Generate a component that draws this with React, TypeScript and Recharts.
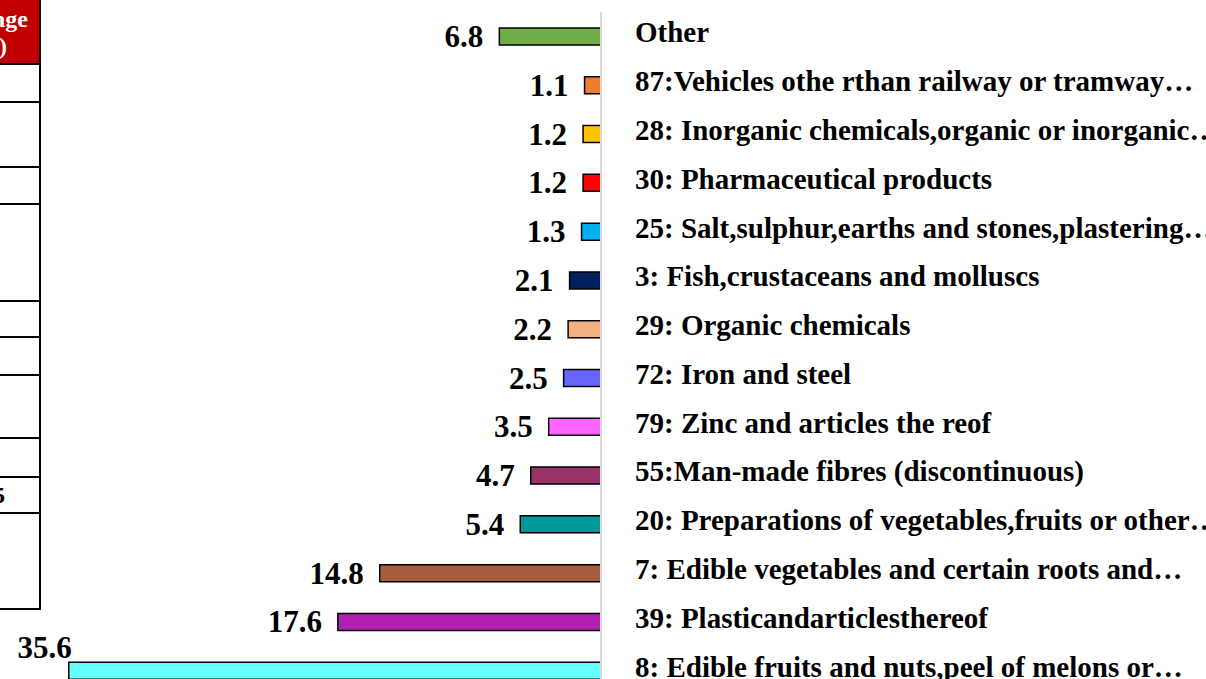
import React from "react";
import { BarChart, Bar, XAxis, YAxis, Cell, LabelList } from "recharts";

const categories = [
  "Other",
  "87:Vehicles othe rthan railway or tramway…",
  "28: Inorganic chemicals,organic or inorganic…",
  "30: Pharmaceutical products",
  "25: Salt,sulphur,earths and stones,plastering…",
  "3: Fish,crustaceans and molluscs",
  "29: Organic chemicals",
  "72: Iron and steel",
  "79: Zinc and articles the reof",
  "55:Man-made fibres (discontinuous)",
  "20: Preparations of vegetables,fruits or other…",
  "7: Edible vegetables and certain roots and…",
  "39: Plasticandarticlesthereof",
  "8: Edible fruits and nuts,peel of melons or…",
];
const values = [6.8, 1.1, 1.2, 1.2, 1.3, 2.1, 2.2, 2.5, 3.5, 4.7, 5.4, 14.8, 17.6, 35.6];
const colors = [
  "#70ad47", "#ed7d31", "#ffc000", "#ff0000", "#00b0f0", "#002060", "#f4b183",
  "#6666ff", "#ff66ff", "#993366", "#009999", "#a65e3f", "#b01fb0", "#66ffff",
];
const tableLines = [64, 102, 167, 204, 301, 337, 375, 438, 477, 513, 609];

const data = categories.map((name, i) => ({ name, value: values[i] }));

const FONT = "'Liberation Serif', 'Times New Roman', serif";

const ValueLabel = (props: any) => {
  const { x, y, width, height, value } = props;
  const left = Math.min(x, x + width);
  const cy = y + height / 2;
  if (left < 120) {
    return (
      <text x={left + 3} y={y - 4} textAnchor="end" fontFamily={FONT} fontWeight="bold" fontSize={31} fill="#000">
        {value}
      </text>
    );
  }
  return (
    <text x={left - 16} y={cy + 10.5} textAnchor="end" fontFamily={FONT} fontWeight="bold" fontSize={31} fill="#000">
      {value}
    </text>
  );
};

const CatTick = (props: any) => {
  const { x, y, payload } = props;
  return (
    <text x={x + 26} y={y + 6} textAnchor="start" fontFamily={FONT} fontWeight="bold" fontSize={29} fill="#000">
      {payload.value}
    </text>
  );
};

export default function App() {
  return (
    <div style={{ position: "absolute", left: 0, top: 0, width: 1206, height: 679, overflow: "hidden", background: "#fff" }}>
      <svg width={60} height={679} style={{ position: "absolute", left: 0, top: 0 }}>
        <rect x={0} y={0} width={40} height={64} fill="#c00000" />
        <text x={28} y={27} textAnchor="end" fontFamily={FONT} fontWeight="bold" fontSize={24} fill="#fff">Percentage</text>
        <text x={7} y={54} textAnchor="end" fontFamily={FONT} fontWeight="bold" fontSize={24} fill="#fff">(%)</text>
        {tableLines.map((ly) => (
          <line key={ly} x1={0} x2={41} y1={ly} y2={ly} stroke="#000" strokeWidth={2} />
        ))}
        <line x1={40} x2={40} y1={0} y2={610} stroke="#000" strokeWidth={2} />
        <text x={5} y={503} textAnchor="end" fontFamily={FONT} fontWeight="bold" fontSize={24} fill="#000">4.5</text>
      </svg>
      <div style={{ position: "absolute", left: 0, top: 0 }}>
        <BarChart
          width={1206}
          height={700}
          data={data}
          layout="vertical"
          margin={{ top: 12, right: 0, bottom: 5, left: 3 }}
          barSize={17}
        >
          <XAxis type="number" domain={[0, 40]} reversed hide />
          <YAxis
            type="category"
            dataKey="name"
            orientation="right"
            width={605}
            axisLine={{ stroke: "#d9d9d9", strokeWidth: 2 }}
            tickLine={false}
            tick={<CatTick />}
            interval={0}
          />
          <Bar dataKey="value" isAnimationActive={false} stroke="#000" strokeWidth={1.5}>
            {data.map((d, i) => (
              <Cell key={d.name} fill={colors[i]} />
            ))}
            <LabelList dataKey="value" content={<ValueLabel />} />
          </Bar>
        </BarChart>
      </div>
    </div>
  );
}
